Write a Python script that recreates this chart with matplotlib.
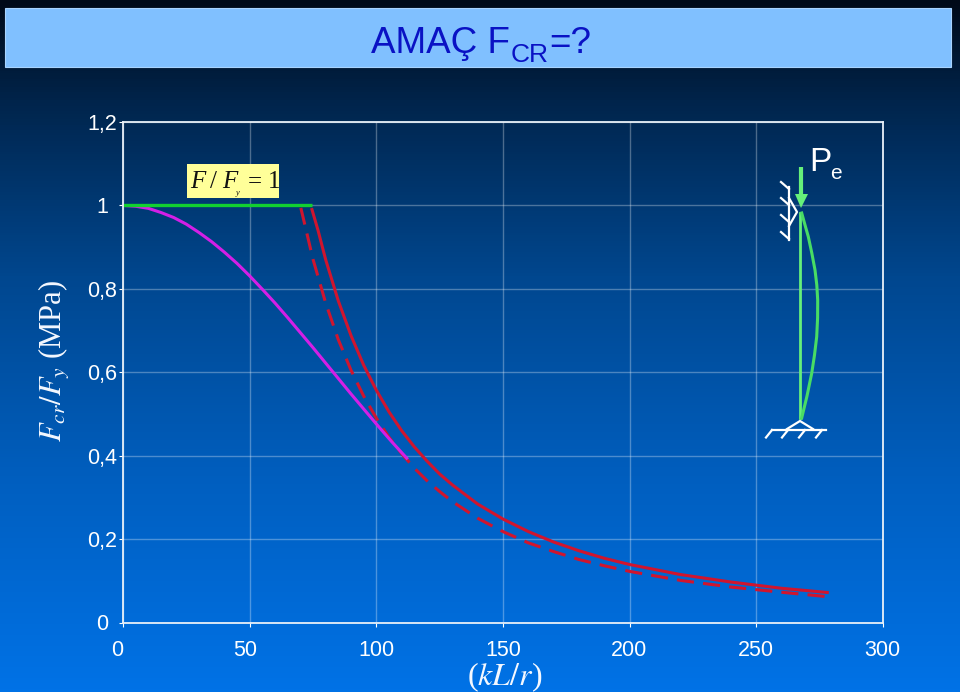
import matplotlib
matplotlib.use('Agg')
import matplotlib.pyplot as plt
import numpy as np
from matplotlib.colors import LinearSegmentedColormap
from matplotlib.patches import Polygon, Rectangle
from matplotlib.transforms import ScaledTranslation

plt.rcParams['font.family'] = ['Liberation Sans', 'DejaVu Sans']

# curves
green_x = [0, 74.6]
green_y = [1, 1]
solid_x = [74.6, 77, 80, 85, 90, 95, 100, 105, 110, 115, 120, 125, 130, 140, 150, 160, 170, 180, 190, 200, 220, 240, 260, 278]
solid_y = [0.99, 0.94, 0.87, 0.771, 0.688, 0.617, 0.557, 0.505, 0.46, 0.421, 0.387, 0.356, 0.33, 0.284, 0.248, 0.218, 0.193, 0.172, 0.154, 0.139, 0.115, 0.097, 0.082, 0.072]
dash_x = [70.2, 75, 80, 85, 90, 95, 100, 105, 110, 115, 120, 125, 130, 140, 150, 160, 170, 180, 190, 200, 220, 240, 260, 278]
dash_y = [0.994, 0.871, 0.766, 0.678, 0.605, 0.543, 0.49, 0.444, 0.405, 0.37, 0.34, 0.314, 0.29, 0.25, 0.218, 0.191, 0.17, 0.151, 0.136, 0.1225, 0.101, 0.085, 0.0725, 0.062]
mag_x = [0, 5, 10, 15, 20, 25, 30, 35, 40, 45, 50, 55, 60, 65, 70, 75, 80, 85, 90, 95, 100, 106, 112]
mag_y = [1, 0.998, 0.993, 0.983, 0.971, 0.955, 0.935, 0.913, 0.888, 0.861, 0.831, 0.799, 0.766, 0.731, 0.695, 0.659, 0.622, 0.585, 0.548, 0.512, 0.476, 0.434, 0.394]

xticks = [0, 50, 100, 150, 200, 250, 300]
xlabels = ['0', '50', '100', '150', '200', '250', '300']
yticks = [0, 0.2, 0.4, 0.6, 0.8, 1, 1.2]
ylabels = ['0', '0,2', '0,4', '0,6', '0,8', '1', '1,2']

# column sketch, in pixels of the picture
col_x = [800, 800]
col_y = [213, 418]
bow_x = [801.7, 805, 808.3, 811.8, 815, 816.8, 817.7, 817.6, 816.7, 814.5, 811.7, 807, 801.7]
bow_y = [213, 225, 236.7, 253, 270, 285, 300, 318, 336.7, 355, 373.3, 396, 418]

W, H = 960, 692
fig = plt.figure(figsize=(W / 100, H / 100), dpi=100)

# background
bg = fig.add_axes([0, 0, 1, 1], zorder=0)
cmap = LinearSegmentedColormap.from_list('bg', [(0, '#000a18'), (0.15, '#00254d'), (0.4, '#00478f'), (0.7, '#005fc0'), (1, '#0072e6')])
bg.imshow(np.linspace(0, 1, H).reshape(-1, 1), aspect='auto', cmap=cmap, extent=[0, W, H, 0])
bg.set_xlim(0, W)
bg.set_ylim(H, 0)
bg.axis('off')
bg.add_patch(Rectangle((5, 8), 946, 59, fc='#80c0ff', ec='#a8d4ff', lw=0.8))
bg.text(371, 53, 'AMAÇ F', color='#0a12c4', fontsize=26.5, va='baseline')
bg.text(511, 62, 'CR', color='#0a12c4', fontsize=19, va='baseline')
bg.text(549, 53, '=?', color='#0a12c4', fontsize=26.5, va='baseline')

# chart
ax = fig.add_axes([123 / W, 1 - 622.5 / H, 760 / W, 500.5 / H], zorder=1)
ax.patch.set_alpha(0)
ax.set_xlim(0, 300)
ax.set_ylim(0, 1.2)
ax.set_xticks(xticks)
ax.set_xticklabels(xlabels)
ax.set_yticks(yticks)
ax.set_yticklabels(ylabels)
ax.grid(True, color='white', alpha=0.3, lw=1)
ax.set_axisbelow(True)
for s in ax.spines.values():
    s.set_color('#e8f0f8')
    s.set_linewidth(1.3)
ax.tick_params(axis='x', colors='white', labelsize=15.5, length=3, pad=9.5)
ax.tick_params(axis='y', colors='white', labelsize=15.5, length=3, pad=7)
for lab in ax.get_yticklabels():
    lab.set_ha('center')
    lab.set_transform(lab.get_transform() + ScaledTranslation(-7 / 100, 0, fig.dpi_scale_trans))
for lab, dx in zip(ax.get_xticklabels(), [-6, -4, 0, 0, -1, 0, -1]):
    lab.set_transform(lab.get_transform() + ScaledTranslation(dx / 100, 0, fig.dpi_scale_trans))

ax.plot(dash_x, dash_y, color='#d0152e', lw=2.2, dashes=(5.6, 3))
ax.plot(solid_x, solid_y, color='#d0152e', lw=2.2)
ax.plot(mag_x, mag_y, color='#d41fe6', lw=2.2)
ax.plot(green_x, green_y, color='#12d030', lw=2.4, solid_capstyle='butt')

# overlay in picture pixels
top = fig.add_axes([0, 0, 1, 1], zorder=2)
top.set_xlim(0, W)
top.set_ylim(H, 0)
top.axis('off')
top.patch.set_alpha(0)

top.add_patch(Rectangle((187, 164), 92, 34, fc='#ffff99', ec='none'))
serif = dict(family='Liberation Serif', color='#111111', va='baseline')
top.text(190, 188, 'F', fontsize=18, style='italic', **serif)
top.text(210, 188, '/', fontsize=18, **serif)
top.text(222, 188, 'F', fontsize=18, style='italic', **serif)
top.text(236, 195, 'y', fontsize=6, style='italic', **serif)
top.text(248, 188, '=', fontsize=18, **serif)
top.text(268, 188, '1', fontsize=18, **serif)

top.text(55, 361, '$F_{cr}/F_{y}$ (MPa)', rotation=90, color='#f4f8ff', fontsize=22, ha='center', va='center',
         family='Liberation Serif', math_fontfamily='stix')
top.text(505, 677, '($kL/r$)', color='#f4f8ff', fontsize=23, ha='center', va='center',
         family='Liberation Serif', math_fontfamily='stix')

top.text(809, 171, 'P', color='white', fontsize=24, va='baseline')
top.text(830, 179, 'e', color='white', fontsize=15, va='baseline')

top.plot(col_x, col_y, color='#66f07a', lw=2)
top.plot(bow_x, bow_y, color='#48dc64', lw=2.2)
top.plot([801, 801], [167, 195], color='#66f07a', lw=3, solid_capstyle='butt')
top.add_patch(Polygon([(795, 194), (808, 194), (801, 208)], fc='#66f07a', ec='none'))

# upper support
hinge = dict(color='white', lw=1.6)
top.plot([789, 789], [187, 240], **hinge)
top.plot([789, 797, 789], [198, 212, 226], **hinge)
for y0 in [182, 198, 215, 232]:
    top.plot([781, 789], [y0, y0 + 7], **hinge)

# lower support
top.plot([772, 826], [430, 430], **hinge)
top.plot([787, 800, 813], [429, 421, 429], **hinge)
for x0 in [772, 788, 805, 822]:
    top.plot([x0, x0 - 6], [430, 437.5], **hinge)

fig.savefig('out.png', dpi=100)
